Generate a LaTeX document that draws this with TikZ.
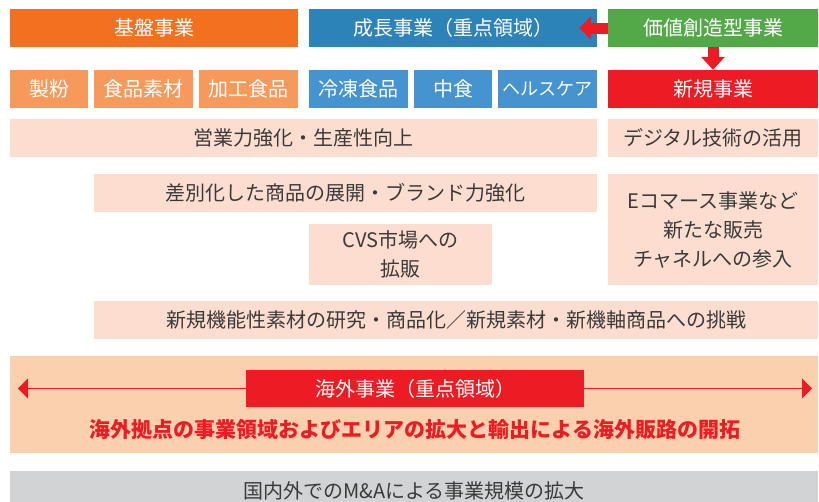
\documentclass[tikz,border=0pt]{standalone}
\usepackage{fontspec}
\setmainfont{Noto Sans CJK JP}
\usetikzlibrary{arrows.meta}
\definecolor{kibanorange}{HTML}{F37021}
\definecolor{kibanlight}{HTML}{F6995B}
\definecolor{seichoblue}{HTML}{2B83B8}
\definecolor{seicholight}{HTML}{4593CF}
\definecolor{kachigreen}{HTML}{53A847}
\definecolor{shinkired}{HTML}{ED1C24}
\definecolor{pinkbox}{HTML}{FCDDD0}
\definecolor{peachband}{HTML}{FBD0AE}
\definecolor{grayband}{HTML}{D1D3D4}
\definecolor{textgray}{HTML}{3A3A3A}

\begin{document}
\begin{tikzpicture}[x=1pt,y=-1pt,
  box/.style={rectangle, inner sep=0pt, align=center, text=textgray,
    font=\fontsize{20}{29}\selectfont},
  head/.style={box, text=white},
  measure/.style={box, fill=pinkbox},
  blockarrow/.style={draw=shinkired, line width=11pt, -{Triangle[length=12pt,width=23pt]}},
  thinarrow/.style={draw=shinkired, line width=1.5pt, -{Triangle[length=10pt,width=20pt]}}]

  \useasboundingbox (0,0) rectangle (819,501);
  \clip (0,0) rectangle (819,501);

  \node[head, fill=kibanorange, minimum width=288pt, minimum height=38pt] (kiban) at (154,28) {基盤事業};
  \node[head, fill=seichoblue, minimum width=288pt, minimum height=38pt] (seicho) at (453,28) {成長事業（重点領域）};
  \node[head, fill=kachigreen, minimum width=210pt, minimum height=38pt] (kachi) at (713,28) {価値創造型事業};

  \node[head, fill=kibanlight, minimum width=78pt, minimum height=38pt] (seifun) at (49,89) {製粉};
  \node[head, fill=kibanlight, minimum width=99pt, minimum height=38pt] (sozai) at (143.5,89) {食品素材};
  \node[head, fill=kibanlight, minimum width=99pt, minimum height=38pt] (kako) at (248.5,89) {加工食品};
  \node[head, fill=seicholight, minimum width=99pt, minimum height=38pt] (reito) at (358.5,89) {冷凍食品};
  \node[head, fill=seicholight, minimum width=78pt, minimum height=38pt] (nakashoku) at (453,89) {中食};
  \node[head, fill=seicholight, minimum width=99pt, minimum height=38pt, font=\fontsize{18}{29}\selectfont] (health) at (547.5,89) {ヘルスケア};
  \node[head, fill=shinkired, minimum width=210pt, minimum height=38pt] (shinki) at (713,89) {新規事業};

  \node[measure, minimum width=587pt, minimum height=38pt] (eigyo) at (303.5,138) {営業力強化・生産性向上};
  \node[measure, minimum width=210pt, minimum height=38pt] (digital) at (713,138) {デジタル技術の活用};
  \node[measure, minimum width=503pt, minimum height=38pt] (sabetsu) at (345.5,193) {差別化した商品の展開・ブランド力強化};
  \node[measure, minimum width=183pt, minimum height=61pt] (cvs) at (400.5,254.5) {CVS市場への\\拡販};
  \node[measure, minimum width=210pt, minimum height=111pt] (ec) at (713,229.5) {Eコマース事業など\\新たな販売\\チャネルへの参入};
  \node[measure, minimum width=724pt, minimum height=38pt] (kino) at (456,320) {新規機能性素材の研究・商品化／新規素材・新機軸商品への挑戦};

  \node[box, fill=peachband, minimum width=808pt, minimum height=97pt] (kaigaiband) at (414,404.5) {};
  \node[head, fill=shinkired, minimum width=338pt, minimum height=37pt] (kaigai) at (415,388.5) {海外事業（重点領域）};
  \node[box, text=shinkired, font=\fontsize{21}{29}\selectfont\bfseries] (kaigaitext) at (415,430) {海外拠点の事業領域およびエリアの拡大と輸出による海外販路の開拓};
  \coordinate (kaigaiL) at (18,388.5);
  \coordinate (kaigaiR) at (812,388.5);

  \node[box, fill=grayband, minimum width=808pt, minimum height=39pt] (ma) at (414,490.5) {国内外でのM\&Aによる事業規模の拡大};

  \draw[blockarrow] (kachi.west) -- ([xshift=-18pt]seicho.east);
  \draw[blockarrow, -{Triangle[length=13pt,width=23pt]}] (kachi.south) -- (shinki.north);
  \draw[thinarrow] (kaigai.west) -- (kaigaiL);
  \draw[thinarrow] (kaigai.east) -- (kaigaiR);

\end{tikzpicture}
\end{document}
